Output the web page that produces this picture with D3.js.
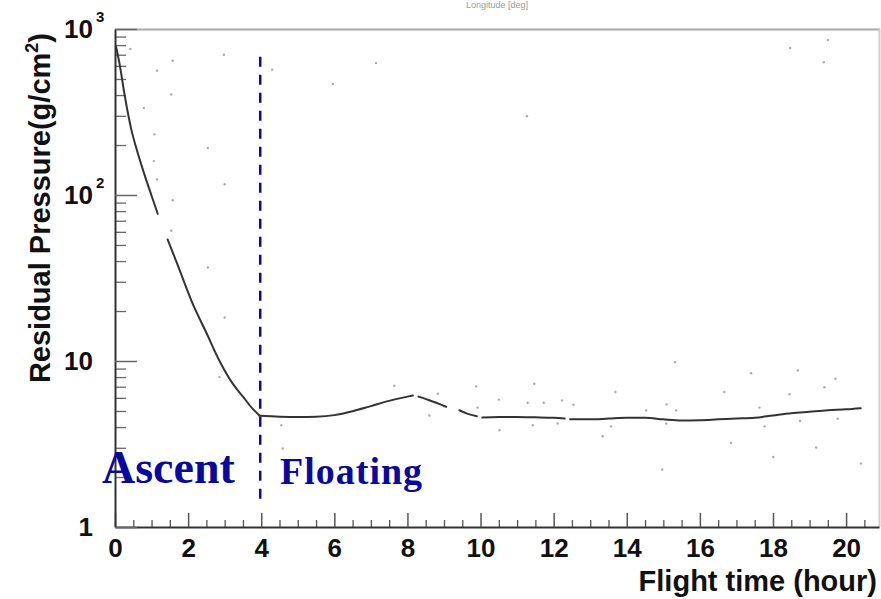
<!DOCTYPE html>
<html>
<head>
<meta charset="utf-8">
<script src="https://cdn.jsdelivr.net/npm/d3@7"></script>
<style>
  body { margin: 0; background: #fff; }
  svg { display: block; }
</style>
</head>
<body>
<svg id="chart" width="881" height="599"></svg>
<script>
// curve, split where the trace has gaps
const ascentT1 = [0.03, 0.12, 0.27, 0.45, 0.6, 0.8, 1.0, 1.17];
const ascentP1 = [780, 625, 392, 246, 186, 134, 99, 77];
const ascentT2 = [1.44, 1.7, 2.13, 2.5, 2.86, 3.22, 3.5, 3.75, 3.95];
const ascentP2 = [54, 38.6, 22, 14.8, 10, 7.3, 6.1, 5.2, 4.7];
const floatT1 = [3.95, 4.5, 5.0, 5.5, 6.0, 6.5, 7.0, 7.5, 8.0, 8.15];
const floatP1 = [4.68, 4.62, 4.6, 4.62, 4.72, 4.98, 5.35, 5.75, 6.1, 6.2];
const floatT2 = [8.3, 8.6, 9.06];
const floatP2 = [6.1, 5.8, 5.3];
const floatT3 = [9.42, 9.6, 9.9];
const floatP3 = [5.05, 4.85, 4.65];
const floatT4 = [10.05, 10.5, 11.0, 11.5, 12.0, 12.3];
const floatP4 = [4.56, 4.6, 4.6, 4.58, 4.55, 4.5];
const floatT5 = [12.45, 13.0, 13.5, 14.0, 14.5, 15.0, 15.5, 16.0, 16.5, 17.0, 17.5, 18.0, 18.5, 19.0, 19.5, 20.0, 20.4];
const floatP5 = [4.45, 4.45, 4.5, 4.55, 4.55, 4.45, 4.38, 4.4, 4.45, 4.5, 4.55, 4.7, 4.85, 4.95, 5.05, 5.12, 5.2];

// stray points scattered over the plot
const dotT = [0.42, 1.58, 2.98, 1.15, 4.3, 1.54, 0.79, 1.08, 2.54, 1.06, 1.15, 3.0, 7.14, 5.96, 11.27,
  1.58, 1.54, 2.54, 3.0, 2.86, 4.55, 4.59, 7.64, 8.83, 8.6, 9.88, 9.92, 10.5, 11.47, 11.29, 11.73,
  12.23, 12.54, 10.52, 11.43, 12.11, 13.69, 13.57, 13.34, 14.53, 15.09, 15.32, 15.08, 15.35, 17.4,
  16.67, 18.68, 19.71, 19.41, 18.45, 17.63, 16.85, 18.01, 19.18, 20.41, 14.97, 17.77, 18.74, 19.77,
  18.47, 19.5, 19.39];
const dotP = [757, 644, 700, 561, 569, 403, 334, 232, 192, 160, 124, 116, 623, 466, 298,
  93, 61, 36.6, 18.3, 8.0, 4.1, 2.97, 7.1, 6.35, 4.7, 7.03, 5.24, 5.85, 7.3, 5.6, 5.6,
  5.79, 5.46, 3.83, 4.1, 4.2, 6.5, 4.04, 3.52, 5.04, 5.48, 9.84, 4.2, 5.04, 8.45,
  6.5, 8.77, 7.82, 6.96, 6.3, 5.24, 3.21, 2.64, 3.01, 2.41, 2.22, 4.04, 4.35, 4.49,
  769, 859, 631];

const xMajor = [0, 2, 4, 6, 8, 10, 12, 14, 16, 18, 20];
const yMajor = [1, 10, 100, 1000];
const yBase = ["1", "10", "10", "10"];
const yExp = ["", "", "2", "3"];
const ascentEnd = 4;

const svg = d3.select("#chart");
const x = d3.scaleLinear().domain([0, 20.9]).range([115, 879]);
const y = d3.scaleLog().domain([1, 1000]).range([527, 29]);

// faint title at the top
svg.append("text")
  .attr("x", 497).attr("y", 8)
  .attr("text-anchor", "middle")
  .attr("font-family", "Liberation Sans, Arial, sans-serif")
  .attr("font-size", 9)
  .attr("fill", "#999")
  .text("Longitude [deg]");

// frame top and right
svg.append("line").attr("x1", 115).attr("x2", 880).attr("y1", 29.5).attr("y2", 29.5)
  .attr("stroke", "#a8a8a8").attr("stroke-width", 2);
svg.append("line").attr("x1", 879.5).attr("x2", 879.5).attr("y1", 29).attr("y2", 527)
  .attr("stroke", "#cfcfcf").attr("stroke-width", 2);

// x axis: majors every 2, minors every 0.5
const xMinor = d3.range(0, 20.9, 0.5).filter(v => v % 2 !== 0);
svg.append("g").attr("transform", "translate(0,527)")
  .call(d3.axisBottom(x).tickValues(xMinor).tickSize(-7).tickFormat(""))
  .call(g => g.select(".domain").remove())
  .selectAll("line").attr("stroke", "#555").attr("stroke-width", 1.3);
const gx = svg.append("g").attr("transform", "translate(0,527)")
  .call(d3.axisBottom(x).tickValues(xMajor).tickSize(-14).tickPadding(12).tickSizeOuter(0));
gx.select(".domain").attr("stroke", "#333").attr("stroke-width", 2);
gx.selectAll("line").attr("stroke", "#555").attr("stroke-width", 1.5);
gx.selectAll("text")
  .attr("font-family", "Liberation Sans, Arial, sans-serif")
  .attr("font-weight", "bold")
  .attr("font-size", 26)
  .attr("fill", "#111");

// y axis: log, decade majors and 2..9 minors
const yMinor = [];
[1, 10, 100].forEach(d => { for (let k = 2; k <= 9; k++) yMinor.push(d * k); });
svg.append("g").attr("transform", "translate(115,0)")
  .call(d3.axisLeft(y).tickValues(yMinor).tickSize(-11).tickFormat(""))
  .call(g => g.select(".domain").remove())
  .selectAll("line").attr("stroke", "#666").attr("stroke-width", 1.3);
const gy = svg.append("g").attr("transform", "translate(115,0)")
  .call(d3.axisLeft(y).tickValues(yMajor).tickSize(-22).tickFormat("").tickSizeOuter(0));
gy.select(".domain").attr("stroke", "#333").attr("stroke-width", 2);
gy.selectAll("line").attr("stroke", "#666").attr("stroke-width", 1.5);

// y tick labels with superscript exponents
yMajor.forEach((v, i) => {
  svg.append("text")
    .attr("x", 93).attr("y", y(v) + 9)
    .attr("text-anchor", "end")
    .attr("font-family", "Liberation Sans, Arial, sans-serif")
    .attr("font-weight", "bold")
    .attr("font-size", 26)
    .attr("fill", "#111")
    .text(yBase[i]);
  if (yExp[i]) {
    svg.append("text")
      .attr("x", 96).attr("y", y(v) - 7)
      .attr("font-family", "Liberation Sans, Arial, sans-serif")
      .attr("font-weight", "bold")
      .attr("font-size", 15)
      .attr("fill", "#111")
      .text(yExp[i]);
  }
});

// axis titles
svg.append("text")
  .attr("x", 877).attr("y", 591)
  .attr("text-anchor", "end")
  .attr("font-family", "Liberation Sans, Arial, sans-serif")
  .attr("font-weight", "bold")
  .attr("font-size", 29)
  .attr("fill", "#111")
  .text("Flight time (hour)");

const yt = svg.append("text")
  .attr("transform", "translate(50,33) rotate(-90)")
  .attr("text-anchor", "end")
  .attr("font-family", "Liberation Sans, Arial, sans-serif")
  .attr("font-weight", "bold")
  .attr("font-size", 29)
  .attr("fill", "#111");
yt.append("tspan").text("Residual Pressure(g/cm");
yt.append("tspan").attr("dy", -12).attr("font-size", 18).text("2");
yt.append("tspan").attr("dy", 12).text(")");

// stray dots
svg.append("g").selectAll("circle")
  .data(dotT.map((t, i) => [t, dotP[i]]))
  .join("circle")
  .attr("cx", d => x(d[0]))
  .attr("cy", d => y(d[1]))
  .attr("r", 1.2)
  .attr("fill", "#aaa");

// pressure curve
const line = d3.line().x(d => x(d[0])).y(d => y(d[1])).curve(d3.curveMonotoneX);
const segments = [
  [ascentT1, ascentP1], [ascentT2, ascentP2], [floatT1, floatP1], [floatT2, floatP2],
  [floatT3, floatP3], [floatT4, floatP4], [floatT5, floatP5]
];
svg.append("g").selectAll("path")
  .data(segments.map(s => s[0].map((t, i) => [t, s[1][i]])))
  .join("path")
  .attr("d", line)
  .attr("fill", "none")
  .attr("stroke", "#333")
  .attr("stroke-width", 2)
  .attr("stroke-linecap", "round");

// ascent / floating boundary
svg.append("line")
  .attr("x1", x(ascentEnd) - 1).attr("x2", x(ascentEnd) - 1)
  .attr("y1", y(680)).attr("y2", y(1.45))
  .attr("stroke", "#0a0aa0")
  .attr("stroke-width", 2.5)
  .attr("stroke-dasharray", "10,8");

svg.append("text")
  .attr("x", 102).attr("y", 483)
  .attr("font-family", "Liberation Serif, Times New Roman, serif")
  .attr("font-weight", "bold")
  .attr("font-size", 46)
  .attr("fill", "#0a0a9a")
  .text("Ascent");
svg.append("text")
  .attr("x", 280).attr("y", 484)
  .attr("font-family", "Liberation Serif, Times New Roman, serif")
  .attr("font-weight", "bold")
  .attr("font-size", 38)
  .attr("letter-spacing", 1)
  .attr("fill", "#0a0a9a")
  .text("Floating");
</script>
</body>
</html>
